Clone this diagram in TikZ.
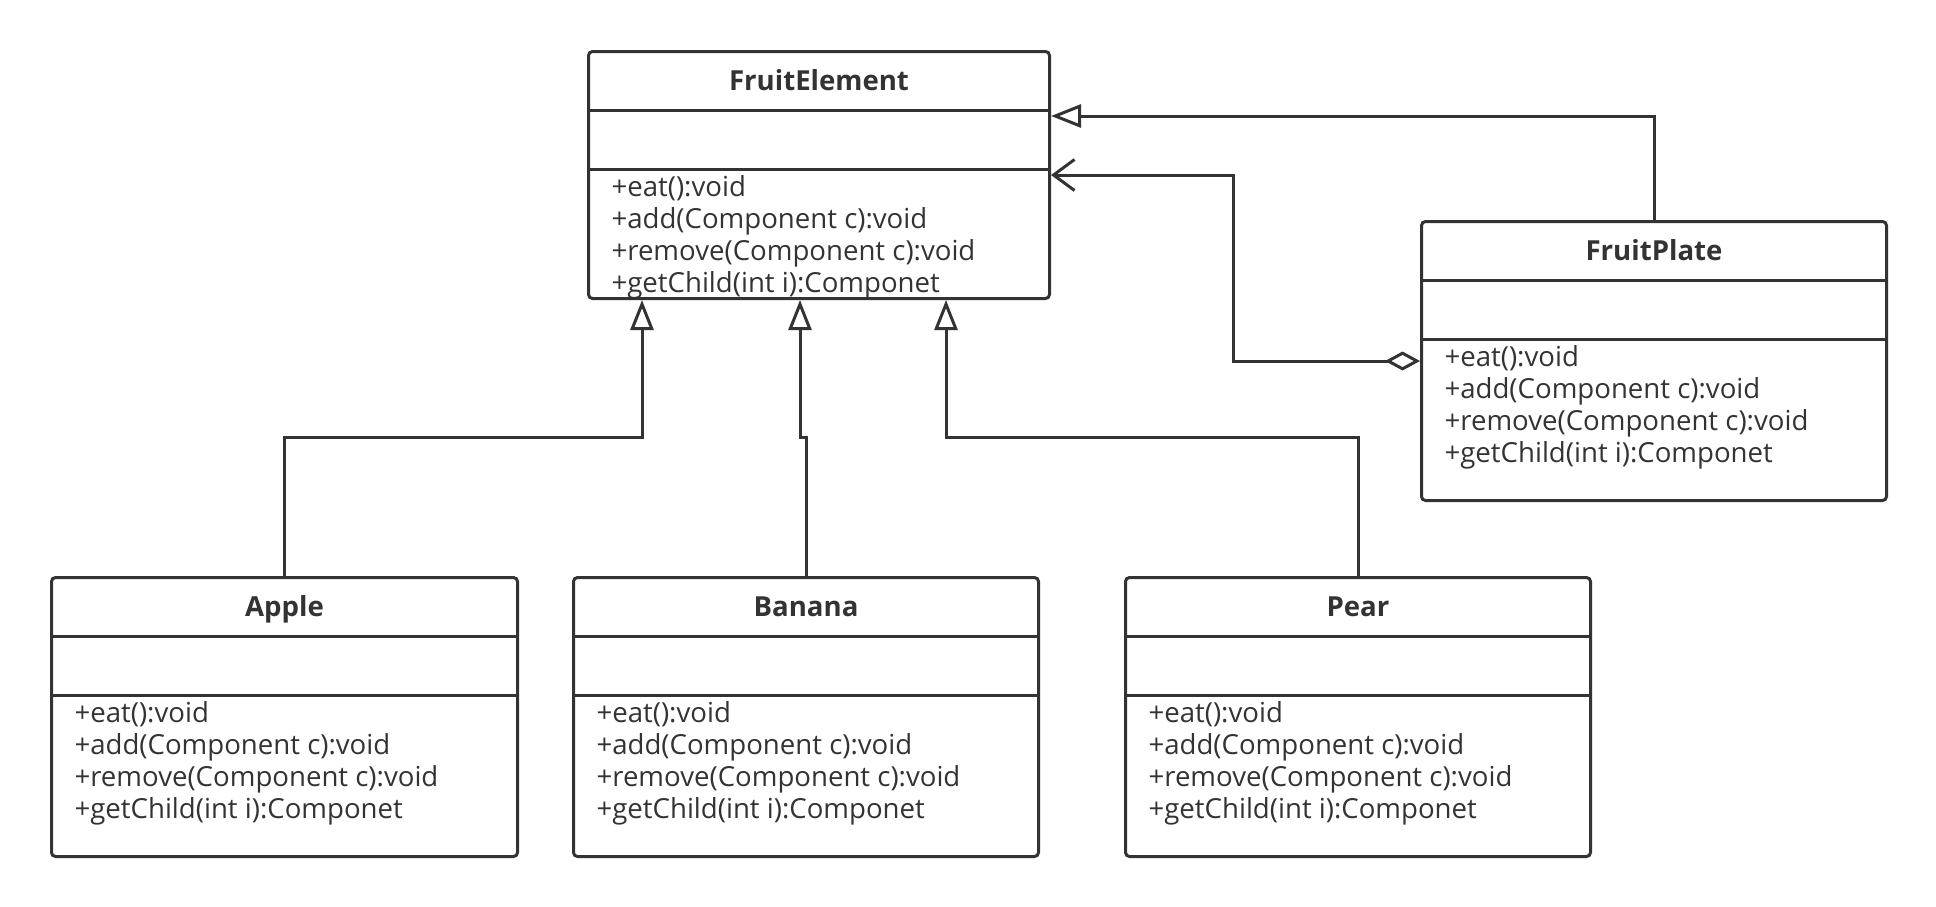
\documentclass[tikz,border=0pt]{standalone}
\usepackage{fontspec}
\setmainfont{Open Sans}
\usetikzlibrary{arrows.meta}
\definecolor{umlline}{HTML}{333333}
\newcommand{\fruitops}{+eat():void\\+add(Component c):void\\+remove(Component c):void\\+getChild(int i):Componet}

\begin{document}
\begin{tikzpicture}[x=0.5pt,y=-0.5pt,line width=1.5pt,color=umlline,
  classbox/.style={draw,rounded corners=2pt,anchor=north west,inner sep=0pt,
    minimum width=#1,minimum height=139.5pt},
  classname/.style={font=\bfseries\fontsize{13.8}{16}\selectfont,inner sep=0pt,
    text height=10pt,text depth=0pt},
  ops/.style={anchor=north west,align=left,inner sep=0pt,font=\fontsize{13.8}{16}\selectfont},
  inherit/.style={-{Triangle[open,length=15pt,width=11.5pt]}},
  aggr/.style={{Diamond[open,length=17.5pt,width=9.5pt]}-{Straight Barb[length=10.5pt,width=15.5pt]}}]
\useasboundingbox (0,0) rectangle (1936,906);

% classes
\node[classbox=230.5pt,minimum height=123.5pt] (fe) at (587,50) {};
\node[classbox=232.5pt] (fp) at (1420,220) {};
\node[classbox=233pt] (apple) at (50,576) {};
\node[classbox=232.5pt] (banana) at (572,576) {};
\node[classbox=232.5pt] (pear) at (1124,576) {};

\foreach \c in {fe,fp,apple,banana,pear} {
  \draw ([yshift=-30pt]\c.north west) -- ([yshift=-30pt]\c.north east);
  \draw ([yshift=-59.5pt]\c.north west) -- ([yshift=-59.5pt]\c.north east);
  \node[ops] (\c-ops) at ([xshift=11.5pt,yshift=-62pt]\c.north west) {\fruitops};
}

\node[classname] (fe-name) at ([yshift=-15pt]fe.north) {FruitElement};
\node[classname] (fp-name) at ([yshift=-15pt]fp.north) {FruitPlate};
\node[classname] (apple-name) at ([yshift=-15pt]apple.north) {Apple};
\node[classname] (banana-name) at ([yshift=-15pt]banana.north) {Banana};
\node[classname] (pear-name) at ([yshift=-15pt]pear.north) {Pear};

% relations
\draw[inherit] (apple.north) |- (642,437) -- (fe.south -| 642,0);
\draw[inherit] (banana.north) |- (800,437) -- (fe.south -| 800,0);
\draw[inherit] (pear.north) |- (946,437) -- (fe.south -| 946,0);
\draw[inherit] (fp.north) |- (fe.east |- 0,116);
\draw[aggr] (fp.west) -| (1233,300) |- (fe.east);
\end{tikzpicture}
\end{document}
